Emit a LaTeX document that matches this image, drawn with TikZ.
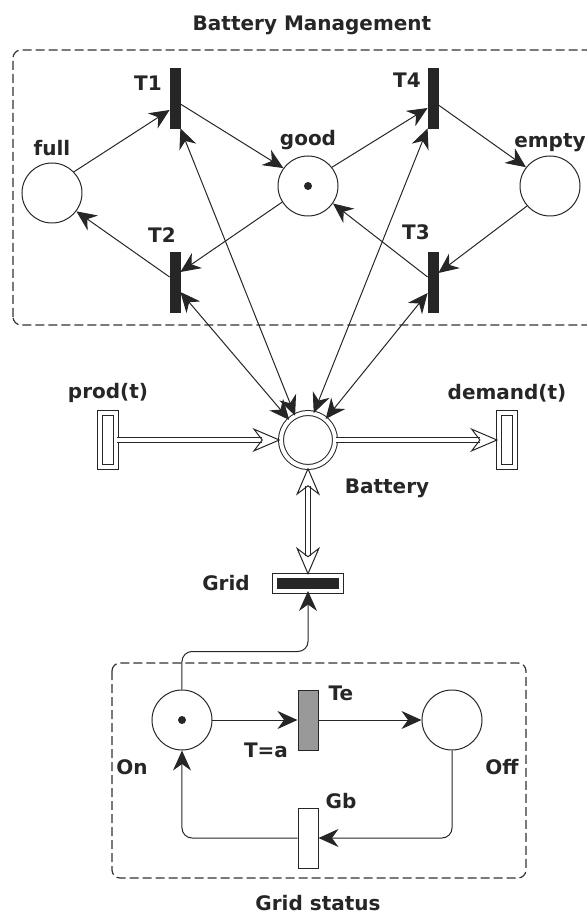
\documentclass[tikz,border=0pt]{standalone}
\usepackage{fontspec}
\setmainfont{DejaVu Sans}
\usepackage{tikz}
\usetikzlibrary{arrows.meta,positioning,calc}
\tikzset{
    pn label/.style={font=\bfseries\fontsize{10}{12}\selectfont, text=black!85, inner sep=0pt},
    pn place/.style={draw=black!85, circle, minimum size=30pt, inner sep=0pt, line width=0.5pt},
    pn token/.style={circle, fill=black!85, minimum size=4pt, inner sep=0pt},
    pn trans/.style={draw=black!85, fill=black!85, minimum width=5pt, minimum height=30pt, inner sep=0pt},
    pn timed/.style={draw=black!85, minimum width=10pt, minimum height=30pt, inner sep=0pt, line width=0.5pt},
    pn fluid/.style={draw=black!85, double, double distance=2pt, line width=0.5pt, inner sep=0pt},
    pn arc/.style={-{Stealth[length=10pt, width=9pt]}, line width=0.5pt, draw=black!85},
    pn link/.style={{Stealth[length=10pt, width=9pt]}-{Stealth[length=10pt, width=9pt]}, line width=0.5pt, draw=black!85},
    pn flow/.style={double, double distance=2pt, line width=0.5pt, draw=black!85},
    pn flow to/.style={pn flow, -{Stealth[open, length=14pt, width=12pt]}},
    pn flow both/.style={pn flow, {Stealth[open, length=14pt, width=12pt]}-{Stealth[open, length=14pt, width=12pt]}},
    pn group/.style={draw=black!80, dash pattern=on 4.5pt off 2pt, rounded corners=4pt, line width=0.6pt}
}
\begin{document}
\begin{tikzpicture}[
    on grid,
]
\path[use as bounding box] (-154pt,220pt) rectangle (139.5pt,-237.5pt);

% Fluid part
\node[pn fluid, circle, minimum size=27pt] (battery) at (0,0) {};
\node[pn fluid, minimum width=8.3pt, minimum height=27.3pt, left=100pt of battery] (prod) {};
\node[pn fluid, minimum width=8.3pt, minimum height=27.3pt, right=99.5pt of battery] (demand) {};
\node[pn fluid, fill=black!85, minimum width=33pt, minimum height=7.5pt, below=71.5pt of battery] (grid) {};
\node[pn label, below right=24pt and 39.5pt of battery] (battery lbl) {Battery};
\node[pn label, above=23.5pt of prod] (prod lbl) {prod(t)};
\node[pn label, above=23.5pt of demand] (demand lbl) {demand(t)};
\node[pn label, left=41pt of grid] (grid lbl) {Grid};
\draw[pn flow to] (prod) -- (battery);
\draw[pn flow to] (battery) -- (demand);
\draw[pn flow both] (battery) -- (grid);

% Battery management
\draw[pn group] (-147.5pt,57.5pt) rectangle (143.5pt,195pt);
\node[pn label] (bm title) at (2pt,207.5pt) {Battery Management};
\node[pn place, above=127pt of battery] (good) {};
\node[pn token] (good tok) at (good) {};
\node[pn place, below left=3.5pt and 128pt of good] (full) {};
\node[pn place, right=121pt of good] (empty) {};
\node[pn trans, above left=44pt and 66.5pt of good] (T1) {};
\node[pn trans, above right=44pt and 62.5pt of good] (T4) {};
\node[pn trans, below left=48pt and 66.5pt of good] (T2) {};
\node[pn trans, below right=48pt and 62.5pt of good] (T3) {};
\node[pn label, above=22.5pt of full] (full lbl) {full};
\node[pn label, above=23pt of good] (good lbl) {good};
\node[pn label, above=21.5pt of empty] (empty lbl) {empty};
\node[pn label, above left=7.5pt and 13.5pt of T1] (T1 lbl) {T1};
\node[pn label, above left=9pt and 13pt of T4] (T4 lbl) {T4};
\node[pn label, above left=23.5pt and 6.5pt of T2] (T2 lbl) {T2};
\node[pn label, above left=25pt and 8.5pt of T3] (T3 lbl) {T3};
\draw[pn arc] (full.44) -- ([yshift=-6pt]T1.west);
\draw[pn arc] ([yshift=-3pt]T1.east) -- (good.144);
\draw[pn arc] (good.38) -- ([yshift=-5pt]T4.west);
\draw[pn arc] ([yshift=-3.5pt]T4.east) -- (empty.142);
\draw[pn arc] (empty.221) -- ([yshift=4.5pt]T3.east);
\draw[pn arc] ([yshift=2.5pt]T3.west) -- (good.-35);
\draw[pn arc] (good.212) -- ([yshift=5pt]T2.east);
\draw[pn arc] ([yshift=2.5pt]T2.west) -- (full.-37);
\draw[pn link] (T1.south east) -- (battery.118);
\draw[pn link] ([yshift=-5pt]T2.east) -- (battery.133);
\draw[pn link] (T4.south west) -- (battery.78);
\draw[pn link] ([yshift=-5.5pt]T3.west) -- (battery.50);

% Grid status
\draw[pn group] (-98pt,-111.5pt) rectangle (109pt,-219pt);
\node[pn label] (gs title) at (5pt,-231.5pt) {Grid status};
\node[pn timed, fill=black!40, below=68.5pt of grid] (Te) {};
\node[pn place, left=63pt of Te] (on) {};
\node[pn token] (on tok) at (on) {};
\node[pn place, right=72pt of Te] (off) {};
\node[pn timed, fill=white, below=59pt of Te] (Gb) {};
\node[pn label, below left=23.5pt and 25pt of on] (on lbl) {On};
\node[pn label, below right=23.5pt and 25pt of off] (off lbl) {Off};
\node[pn label, above right=13.5pt and 16.5pt of Te] (Te lbl) {Te};
\node[pn label, below left=15pt and 21pt of Te] (Te cond) {T=a};
\node[pn label, above right=18.5pt and 16.5pt of Gb] (Gb lbl) {Gb};
\draw[pn arc] (on) -- (Te);
\draw[pn arc] (Te) -- (off);
\draw[pn arc, rounded corners=5pt] (off.south) |- (Gb.east);
\draw[pn arc, rounded corners=5pt] (Gb.west) -| (on.south);
\draw[pn arc, rounded corners=5pt] (on.north) -- ++(0,19pt) -| (grid.south);
\end{tikzpicture}
\end{document}
